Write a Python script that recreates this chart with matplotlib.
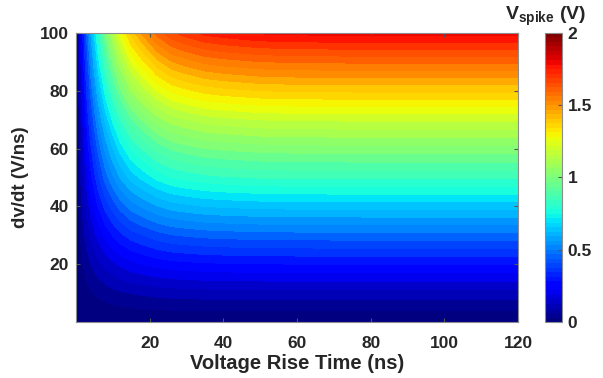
import matplotlib
matplotlib.use('Agg')
import matplotlib.pyplot as plt
import numpy as np
from matplotlib.cm import ScalarMappable
from matplotlib.colors import Normalize
from matplotlib.ticker import FormatStrFormatter

plt.rcParams['font.family'] = ['Liberation Sans', 'DejaVu Sans']
plt.rcParams['font.weight'] = 'bold'
plt.rcParams['axes.labelweight'] = 'bold'
plt.rcParams['mathtext.fontset'] = 'custom'
plt.rcParams['mathtext.rm'] = 'Liberation Sans:bold'
plt.rcParams['mathtext.bf'] = 'Liberation Sans:bold'

# grid axes
rise_time = [0, 1, 2, 3, 4, 5, 6, 8, 10, 12, 15, 18, 22, 26, 30, 35, 40, 50, 60, 80, 100, 120]
dvdt = [0, 10, 20, 30, 40, 50, 60, 70, 80, 90, 100]

# settled spike voltage for each dv/dt (long rise times)
v_settled = [0.0, 0.13, 0.30, 0.48, 0.67, 0.86, 1.03, 1.21, 1.41, 1.61, 1.82]
# fraction of the settled spike reached for each rise time
rise_frac = [0.0, 0.095, 0.18, 0.26, 0.33, 0.39, 0.45, 0.55, 0.63, 0.70, 0.78,
             0.83, 0.89, 0.93, 0.95, 0.97, 0.98, 0.993, 0.997, 1.0, 1.0, 1.0]

cbar_ticks = [0, 0.5, 1, 1.5, 2]
x_ticks = [20, 40, 60, 80, 100, 120]
y_ticks = [20, 40, 60, 80, 100]

vspike = np.outer(v_settled, rise_frac)

txt = '#262626'
edge = '#8c8c8c'
cmap = plt.get_cmap('jet', 64)
norm = Normalize(0, 2)

fig = plt.figure(figsize=(6.03, 3.78), dpi=100)
ax = fig.add_axes([0.126, 0.148, 0.733, 0.765])
levels = np.linspace(0, 2, 41)
# each band takes the colour of its lower level
band_colors = cmap(norm(levels[:-1]))
ax.contourf(rise_time, dvdt, vspike, levels=levels, colors=band_colors)

ax.set_xlim(0, 120)
ax.set_ylim(0, 100)
ax.set_xticks(x_ticks)
ax.set_yticks(y_ticks)
ax.tick_params(direction='in', top=True, right=True, length=3, width=0.8,
               color='#555555', labelsize=12.5, labelcolor=txt)
ax.tick_params(axis='x', pad=10)
ax.tick_params(axis='y', pad=5)
for s in ax.spines.values():
    s.set_color(edge)
    s.set_linewidth(0.8)
ax.set_xlabel('Voltage Rise Time (ns)', fontsize=14.5, color=txt, labelpad=2)
ax.set_ylabel('dv/dt (V/ns)', fontsize=13.5, color=txt, labelpad=8)

# colour scale
cax = fig.add_axes([0.904, 0.148, 0.028, 0.765])
sm = ScalarMappable(norm=norm, cmap=cmap)
cb = fig.colorbar(sm, cax=cax, ticks=cbar_ticks)
cb.ax.yaxis.set_major_formatter(FormatStrFormatter('%g'))
cb.ax.tick_params(direction='in', length=3, width=0.8, color='#555555',
                  labelsize=12.5, labelcolor=txt, pad=4)
cb.outline.set_edgecolor(edge)
cb.outline.set_linewidth(0.8)
fig.text(0.905, 0.925, r'$\mathbf{V_{spike}}$ (V)', fontsize=14, color=txt,
         ha='center', va='bottom')

fig.savefig('out.png', dpi=100)
